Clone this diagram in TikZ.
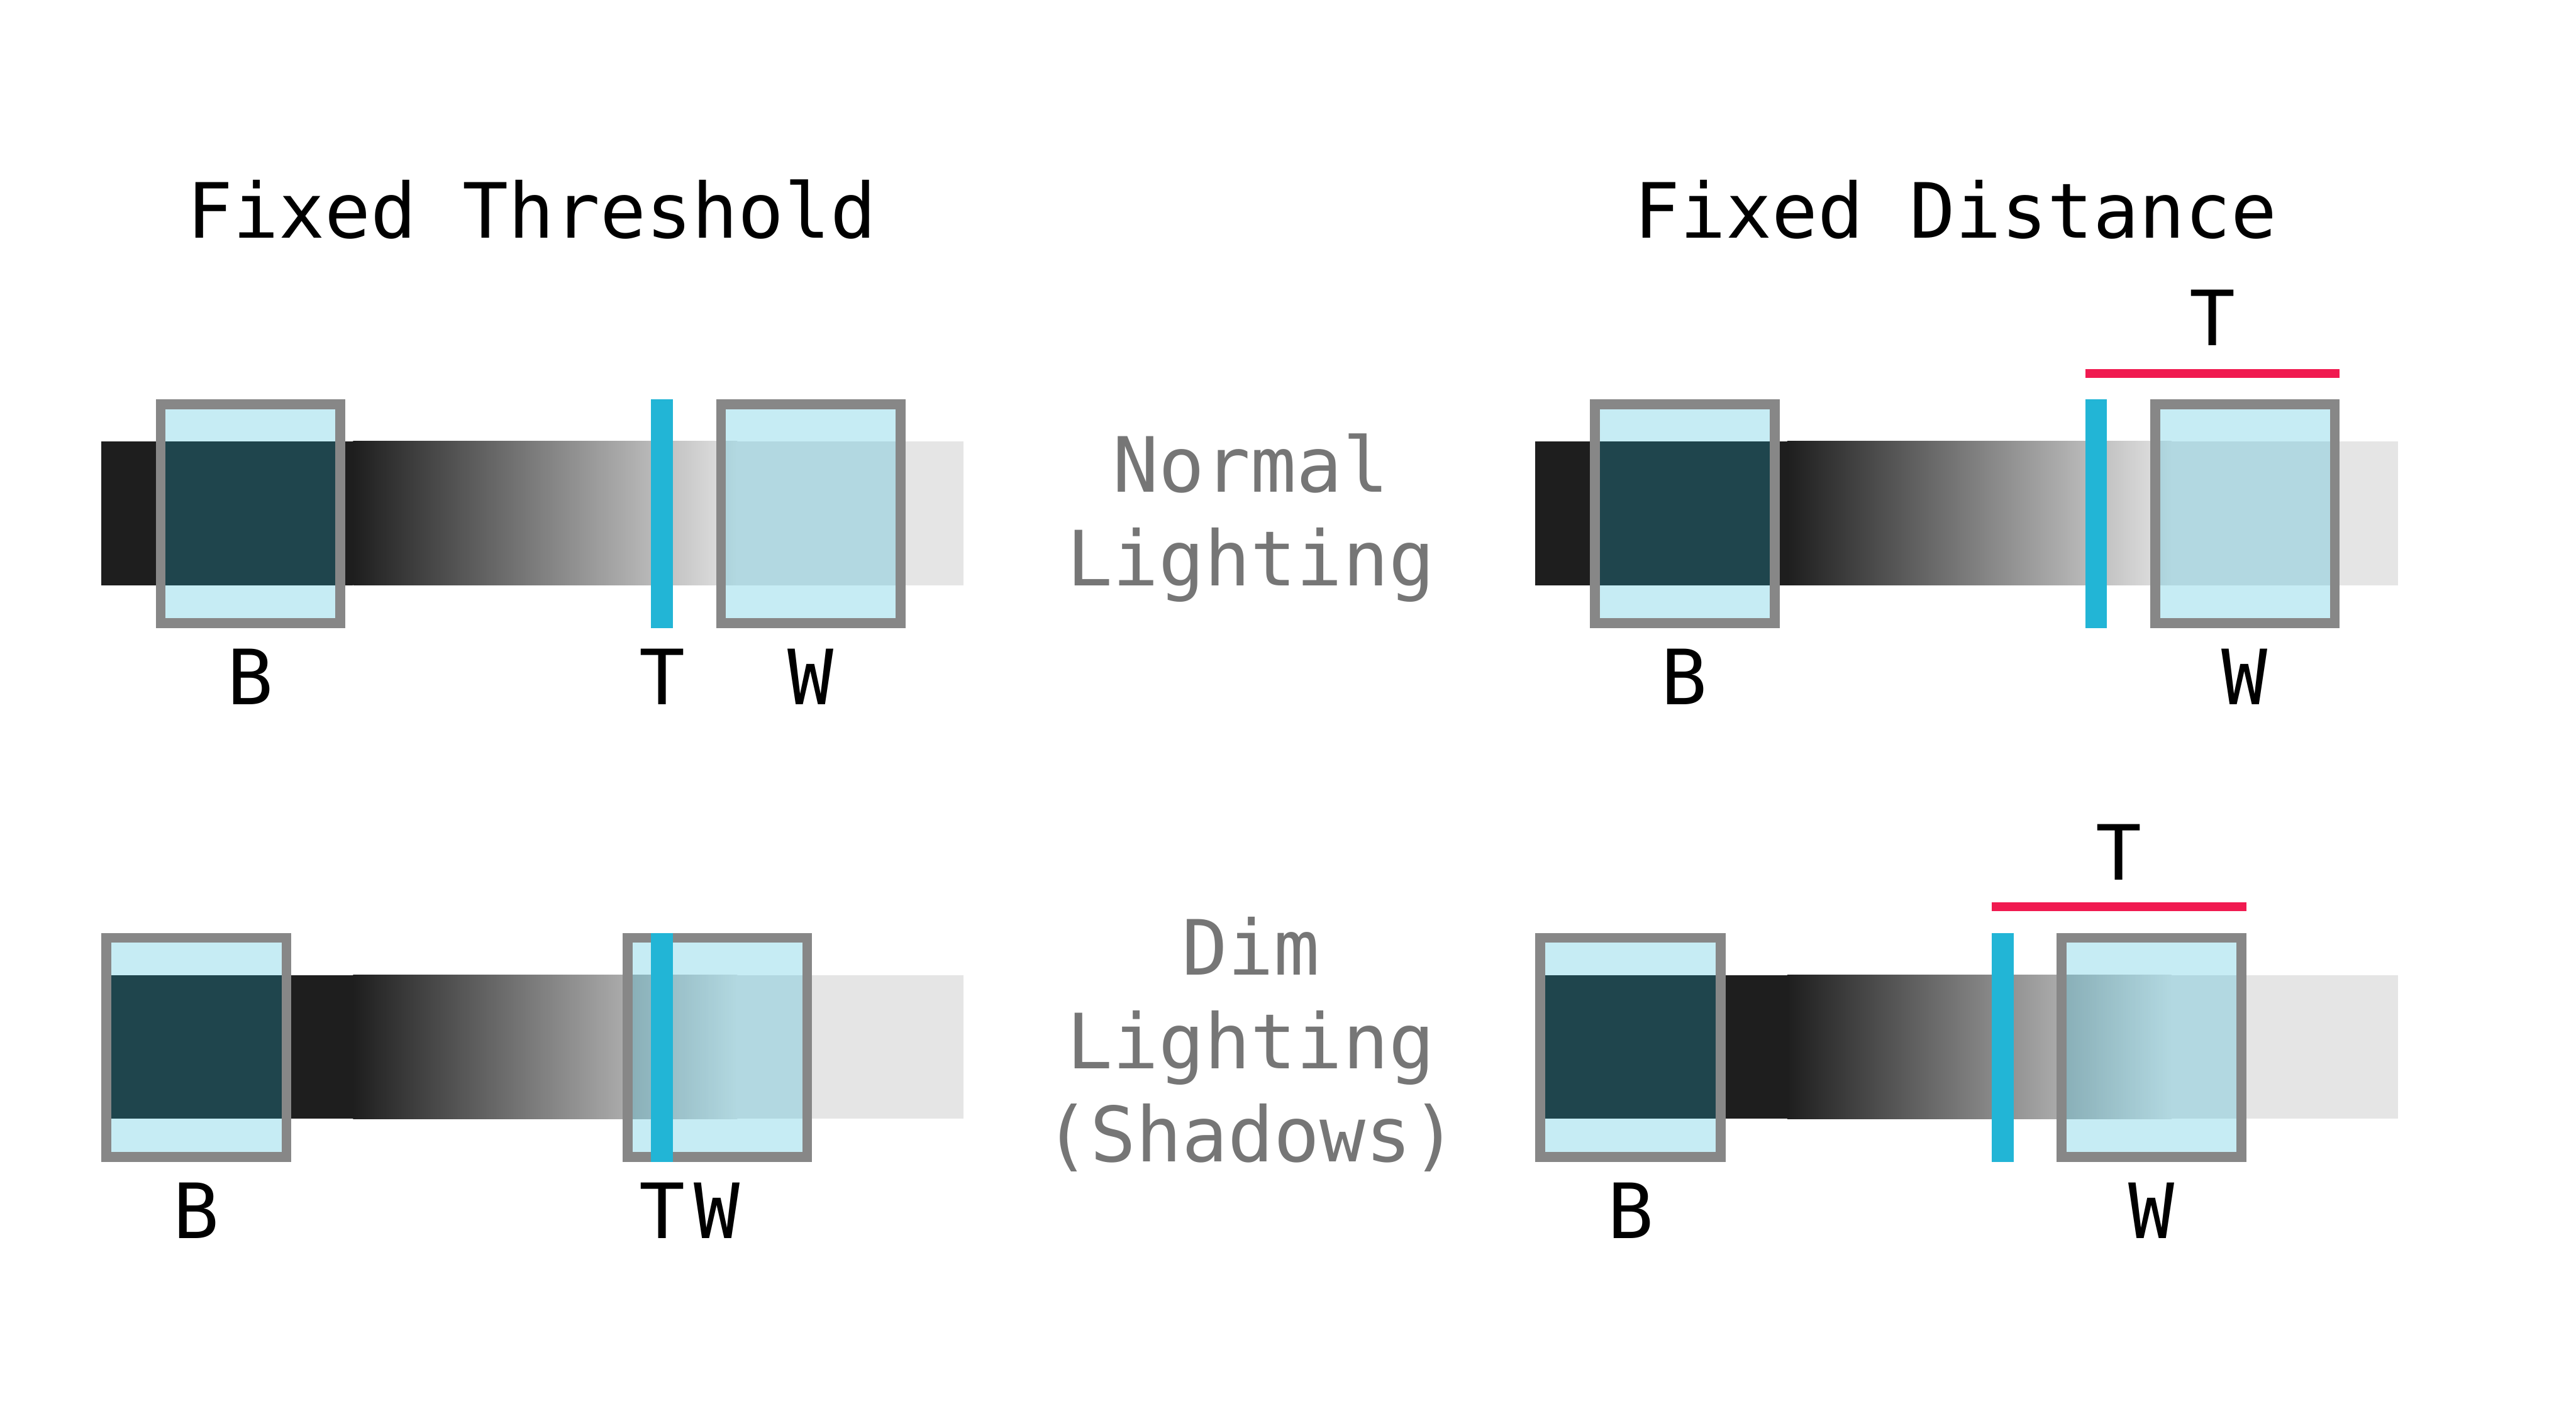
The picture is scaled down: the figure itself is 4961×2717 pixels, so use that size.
\documentclass[tikz,border=0pt]{standalone}
\usepackage{fontspec}
\newfontfamily\monofont{DejaVu Sans Mono}
\usepackage{tikz}

\definecolor{bardark}{HTML}{1E1E1E}
\definecolor{barlight}{HTML}{E5E5E5}
\definecolor{boxgray}{HTML}{878787}
\definecolor{threshcyan}{HTML}{22B5D6}
\definecolor{spanred}{HTML}{F01A50}
\definecolor{labelgray}{HTML}{767676}

\begin{document}
\begin{tikzpicture}[x=0.1mm,y=-0.1mm,
  txt/.style={anchor=base, inner sep=0pt, font=\monofont\fontsize{41.8}{51.2}\selectfont},
  side/.style={txt, align=center, text=labelgray},
  winbox/.style={draw=boxgray, line width=1.9mm, fill=threshcyan, fill opacity=0.26},
  threshline/.style={draw=threshcyan, line width=4.2mm},
  spanline/.style={draw=spanred, line width=1.7mm}]
\useasboundingbox (0,0) rectangle (4961,2717);

% titles
\node[txt] (fixthr) at (1024,458) {Fixed Threshold};
\node[txt] (fixdist) at (3766,458) {Fixed Distance};
\node[side] (normal) at (2409,1128) {Normal\\Lighting};
\node[side] (dim) at (2409,2238) {Dim\\Lighting\\(Shadows)};

% normal lighting, both columns
\foreach \dx in {0, 2762} {
  \begin{scope}[shift={(\dx,0)}]
    \fill[bardark] (195,850) rectangle (680,1127);
    \shade[left color=bardark, right color=barlight] (680,850) rectangle (1420,1127);
    \fill[barlight] (1420,850) rectangle (1856,1127);
    \draw[winbox] (309.5,778.5) rectangle (655.5,1200.5);
    \draw[winbox] (1388.5,778.5) rectangle (1734.5,1200.5);
  \end{scope}
}
\draw[threshline] (1275,769) -- (1275,1210);
\draw[threshline] (4037,769) -- (4037,1210);
\draw[spanline] (4016,720) -- (4506,720);

% dim lighting, both columns
\foreach \dx in {0, 2762} {
  \begin{scope}[shift={(\dx,0)}]
    \fill[bardark] (195,1878) rectangle (680,2155);
    \shade[left color=bardark, right color=barlight] (680,1878) rectangle (1420,2155);
    \fill[barlight] (1420,1878) rectangle (1856,2155);
    \draw[winbox] (204.5,1806.5) rectangle (551.5,2228.5);
    \draw[winbox] (1208.5,1806.5) rectangle (1554.5,2228.5);
  \end{scope}
}
\draw[threshline] (1275,1797) -- (1275,2238);
\draw[threshline] (3857,1797) -- (3857,2238);
\draw[spanline] (3836,1747) -- (4326,1747);

% letters
\node[txt] (b1) at (482,1357) {B};
\node[txt] (t1) at (1275,1357) {T};
\node[txt] (w1) at (1561,1357) {W};
\node[txt] (b2) at (3244,1357) {B};
\node[txt] (t2) at (4261,666) {T};
\node[txt] (w2) at (4323,1357) {W};
\node[txt] (b3) at (378,2385) {B};
\node[txt] (t3) at (1275,2385) {T};
\node[txt] (w3) at (1381,2385) {W};
\node[txt] (b4) at (3140,2385) {B};
\node[txt] (t4) at (4081,1695) {T};
\node[txt] (w4) at (4143,2385) {W};
\end{tikzpicture}
\end{document}
